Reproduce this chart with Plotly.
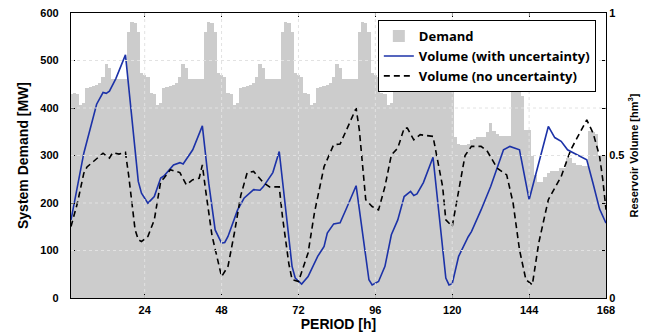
import plotly.graph_objects as go

# ---------------- data ----------------
hours = list(range(1, 169))

weekday_profile = [465, 431, 429, 407, 410, 442, 445, 447, 448, 452, 465, 493,
                   484, 462, 461, 461, 461, 461, 561, 582, 580, 561, 473, 470]
day1_demand = [429] + weekday_profile[1:]
day6_demand = [340, 325, 322, 322, 325, 333, 335, 338, 340, 340, 350, 368,
               352, 345, 342, 342, 342, 342, 438, 440, 435, 425, 354, 354]
day7_demand = [298, 259, 245, 245, 255, 263, 268, 268, 268, 273, 273, 294,
               294, 284, 280, 280, 277, 277, 352, 350, 345, 300, 300, 300]
demand = day1_demand + weekday_profile * 4 + day6_demand + day7_demand

vol_unc_hours = [1, 5, 9, 11, 12, 13, 15, 18, 22, 23, 25, 27, 29, 30, 33, 35, 36,
                 39, 42, 44, 46, 48, 49, 50, 53, 55, 58, 60, 61, 64, 66, 70, 71,
                 73, 75, 77, 78, 80, 81, 83, 85, 87, 90, 94, 95, 97, 99, 101,
                 103, 105, 107, 108, 109, 111, 114, 118, 119, 120, 122, 125, 126,
                 129, 132, 136, 138, 141, 144, 150, 152, 154, 156, 157, 162, 164,
                 166, 168]
vol_unc = [0.274, 0.508, 0.68, 0.721, 0.718, 0.726, 0.77, 0.853, 0.409, 0.368,
           0.333, 0.356, 0.421, 0.428, 0.467, 0.475, 0.47, 0.52, 0.604, 0.403,
           0.239, 0.193, 0.195, 0.216, 0.309, 0.35, 0.38, 0.378, 0.39, 0.44,
           0.514, 0.111, 0.07, 0.049, 0.075, 0.122, 0.146, 0.181, 0.228, 0.26,
           0.264, 0.315, 0.394, 0.064, 0.046, 0.058, 0.111, 0.222, 0.274, 0.356,
           0.374, 0.36, 0.365, 0.405, 0.494, 0.07, 0.046, 0.05, 0.146, 0.215,
           0.233, 0.309, 0.391, 0.52, 0.532, 0.52, 0.345, 0.602, 0.563, 0.55,
           0.52, 0.514, 0.485, 0.4, 0.312, 0.263]

vol_nounc_hours = [1, 3, 5, 6, 8, 11, 13, 14, 16, 18, 19, 21, 22, 23, 25, 27, 29,
                   30, 32, 35, 37, 39, 41, 42, 43, 45, 48, 50, 52, 54, 56, 58,
                   61, 63, 66, 67, 69, 70, 72, 75, 77, 80, 83, 85, 87, 90, 91,
                   93, 95, 97, 99, 101, 103, 105, 106, 108, 110, 114, 117, 118,
                   120, 122, 124, 126, 129, 131, 134, 137, 139, 141, 143, 145,
                   147, 150, 154, 157, 162, 164, 166, 167, 168]
vol_nounc = [0.251, 0.333, 0.438, 0.46, 0.479, 0.508, 0.491, 0.51, 0.505, 0.511,
             0.43, 0.24, 0.205, 0.198, 0.216, 0.274, 0.409, 0.42, 0.45, 0.44,
             0.397, 0.415, 0.42, 0.467, 0.38, 0.22, 0.075, 0.111, 0.228, 0.36,
             0.44, 0.444, 0.405, 0.39, 0.39, 0.286, 0.12, 0.065, 0.058, 0.158,
             0.3, 0.461, 0.538, 0.54, 0.59, 0.666, 0.59, 0.345, 0.321, 0.309,
             0.391, 0.502, 0.526, 0.596, 0.596, 0.555, 0.573, 0.567, 0.391,
             0.274, 0.251, 0.38, 0.5, 0.532, 0.532, 0.514, 0.456, 0.432, 0.333,
             0.169, 0.064, 0.046, 0.193, 0.345, 0.426, 0.52, 0.625, 0.578, 0.497,
             0.415, 0.31]

x_ticks = [24, 48, 72, 96, 120, 144, 168]
y_ticks = [0, 100, 200, 300, 400, 500, 600]
y2_tickvals = [0, 1/6, 2/6, 0.5, 4/6, 5/6, 1]
y2_ticktext = ["0", "", "", "0.5", "", "", "1"]

# ---------------- figure ----------------
FONT = "Liberation Sans, Arial, sans-serif"
LEGEND_FONT = "Open Sans, Liberation Sans, sans-serif"
GRID = "rgb(226,226,226)"
BAR = "rgb(204,204,204)"

fig = go.Figure()
fig.add_trace(go.Bar(x=hours, y=demand, width=1.06, name="Demand",
                     marker=dict(color=BAR, line=dict(width=0)),
                     yaxis="y"))
fig.add_trace(go.Scatter(x=vol_unc_hours, y=vol_unc, mode="lines",
                         name="Volume (with uncertainty)",
                         line=dict(color="#1c32a8", width=1.6), yaxis="y2"))
fig.add_trace(go.Scatter(x=vol_nounc_hours, y=vol_nounc, mode="lines",
                         name="Volume (no uncertainty)",
                         line=dict(color="black", width=1.6, dash="6px,4px"),
                         yaxis="y2"))

shapes = []
for xv in x_ticks[:-1]:
    shapes.append(dict(type="line", xref="x", yref="paper", x0=xv, x1=xv, y0=0, y1=1,
                       line=dict(color=GRID, width=1, dash="dot"), layer="above"))
for yv in y_ticks[1:-1]:
    shapes.append(dict(type="line", xref="paper", yref="y", x0=0, x1=1, y0=yv, y1=yv,
                       line=dict(color=GRID, width=1, dash="dot"), layer="above"))

tickfont = dict(family=FONT, size=11, color="black", weight="bold")

fig.update_layout(
    width=643, height=328,
    margin=dict(l=63, r=45, t=5, b=38, autoexpand=False),
    paper_bgcolor="white", plot_bgcolor="white",
    bargap=0, showlegend=True,
    shapes=shapes,
    font=dict(family=FONT, color="black"),
    xaxis=dict(range=[1, 168], tickvals=x_ticks, ticks="inside", ticklen=4,
               tickcolor="black", showgrid=False, zeroline=False, automargin=False,
               showline=True, linecolor="black", linewidth=1, mirror="ticks",
               tickfont=tickfont, ticklabelstandoff=2, ticklabeloverflow="allow",
               title=dict(text="PERIOD [h]", standoff=2,
                          font=dict(family=FONT, size=14, weight="bold"))),
    yaxis=dict(range=[0, 600], tickvals=y_ticks, ticks="inside", ticklen=4,
               tickcolor="black", showgrid=False, zeroline=False, automargin=False,
               showline=True, linecolor="black", linewidth=1.2,
               tickfont=tickfont, ticklabelstandoff=9, ticklabeloverflow="allow",
               title=dict(text="System Demand [MW]", standoff=8,
                          font=dict(family=FONT, size=14, weight="bold"))),
    yaxis2=dict(range=[0, 1], overlaying="y", side="right",
                tickvals=y2_tickvals, ticktext=y2_ticktext, automargin=False,
                ticks="inside", ticklen=4, tickcolor="black",
                showgrid=False, zeroline=False, showline=True,
                linecolor="black", linewidth=1, tickfont=tickfont,
                ticklabeloverflow="allow",
                title=dict(text="Reservoir Volume [hm<sup>3</sup>]", standoff=6,
                           font=dict(family=FONT, size=11, weight="bold"))),
    legend=dict(x=0.981, y=0.975, xanchor="right", yanchor="top",
                bgcolor="white", bordercolor="black", borderwidth=1,
                font=dict(family=LEGEND_FONT, size=13, color="black", weight="bold"),
                tracegroupgap=0, itemwidth=30),
)

fig.write_html("out.html")
